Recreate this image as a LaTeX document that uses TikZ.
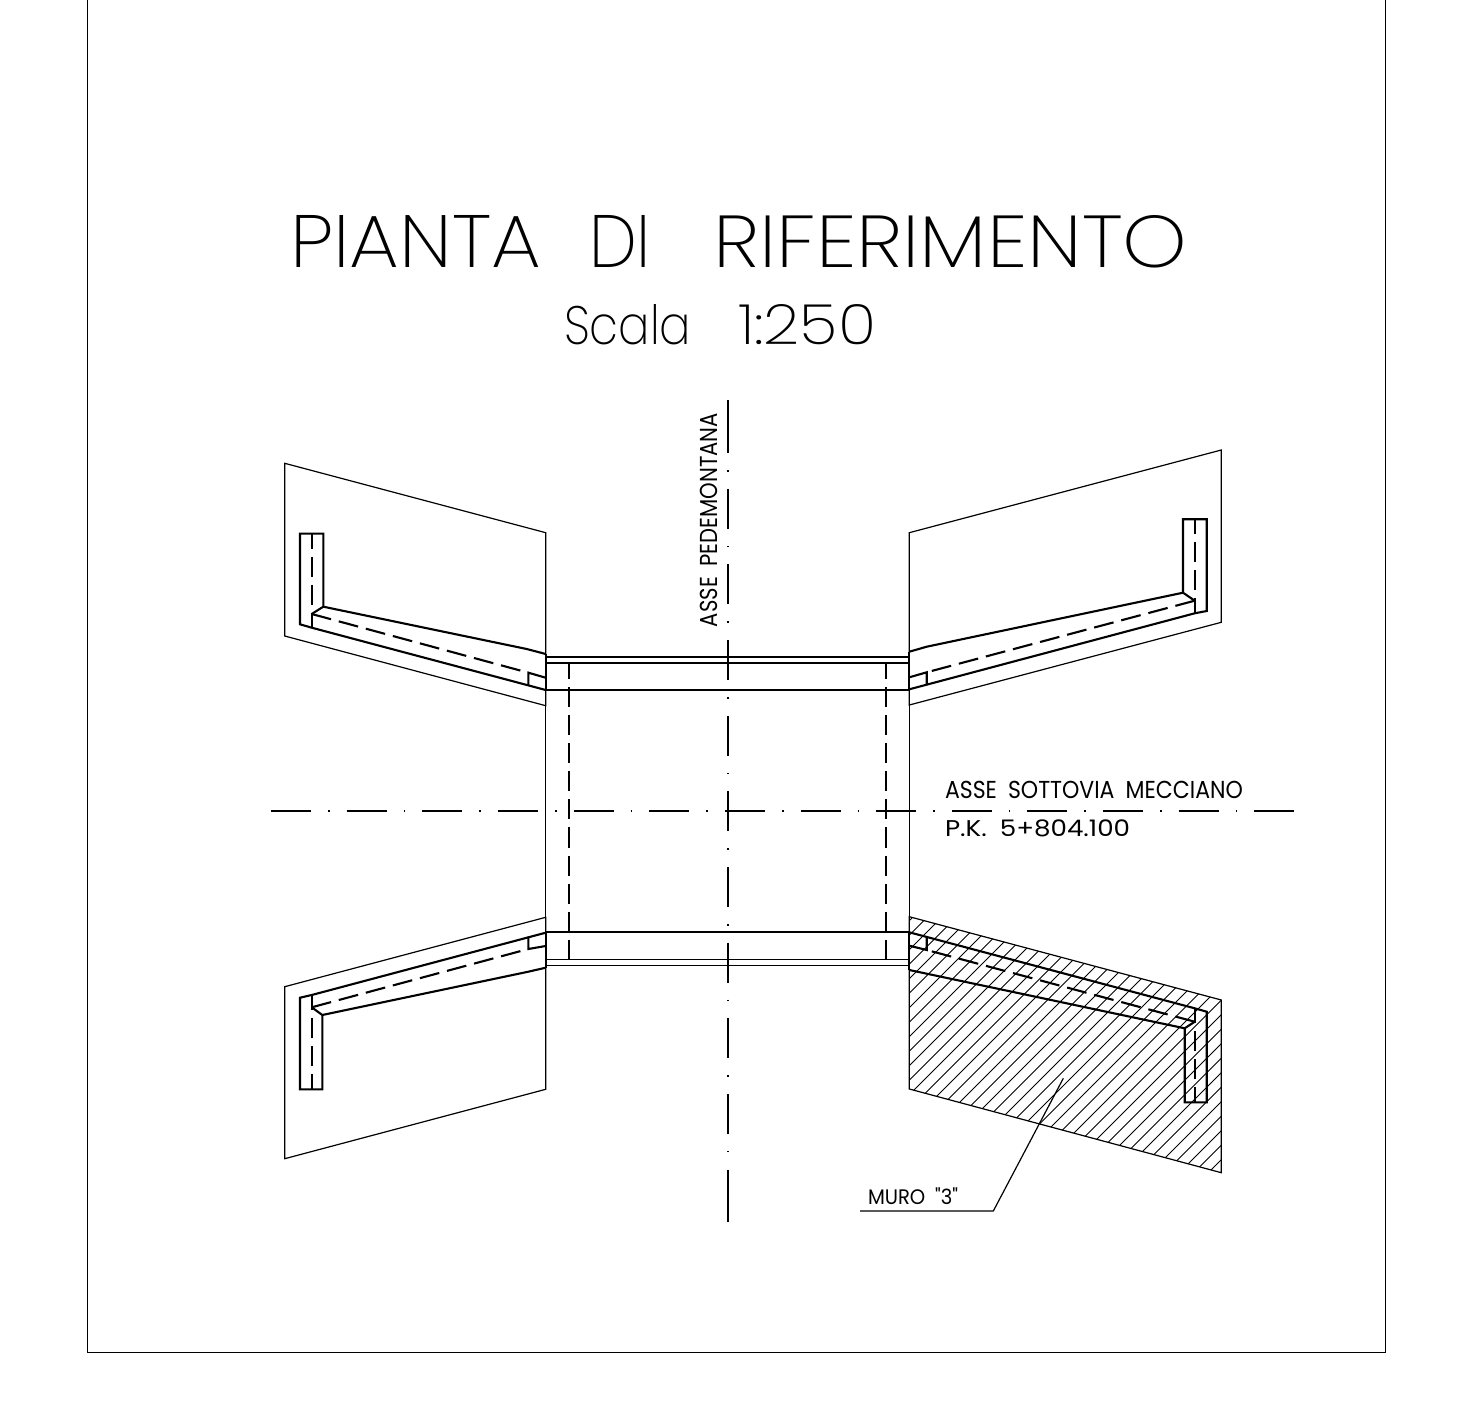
\documentclass[tikz,border=0pt]{standalone}
\usepackage{fontspec}
\usepackage{graphicx}
\newfontfamily\titlefont{Poppins ExtraLight}
\newfontfamily\labelfont{Poppins}
\tikzset{
 sheetline/.style={line width=0.009cm},
 thinline/.style={line width=0.012cm},
 wallline/.style={line width=0.021cm},
 wallhidden/.style={line width=0.021cm,dash pattern=on 0.20cm off 0.08cm},
 axisline/.style={line width=0.016cm,dash pattern=on 0.40cm off 0.17cm on 0.016cm off 0.17cm},
 axisdash/.style={line width=0.024cm,dash pattern=on 0.016cm off 0.17cm on 0.40cm off 0.17cm},
 cadtext/.style={inner sep=0pt,outer sep=0pt}
}
\begin{document}
\begin{tikzpicture}[x=0.01cm,y=-0.01cm]
 \useasboundingbox (0,0) rectangle (1483,1401);
 % sheet border
 \draw[sheetline](87,0)--(87,1352)--(1385,1352)--(1385,0);
 % titles
 \node (title) [cadtext,anchor=south west] at (290,268) {\resizebox{2.51cm}{0.52cm}{\titlefont PIANTA}\hspace{0.48cm}\resizebox{0.62cm}{0.52cm}{\titlefont DI}\hspace{0.62cm}\resizebox{4.74cm}{0.52cm}{\titlefont RIFERIMENTO}};
 \node (scale) [cadtext,anchor=south west] at (564,345) {\resizebox{1.27cm}{0.40cm}{\titlefont Scala}\hspace{0.47cm}\resizebox{1.38cm}{0.40cm}{\titlefont 1:250}};
 % hatch of the marked wall
 \begin{scope}
  \clip (909.3,916.7)--(1221.3,1000)--(1221.3,1172.7)--(909.3,1089)--cycle;
  \foreach \c in {1830,1844.5,...,2395}
   \draw[line width=0.01cm](909.3,\c-909.3)--(1221.3,\c-1221.3);
 \end{scope}
 % panels
 \draw[thinline](284.7,463.3)--(545.7,532.7)--(545.7,705.7)--(284.7,636)--cycle;
 \draw[thinline](909.3,532.7)--(1221.3,450)--(1221.3,622.3)--(909.3,705)--cycle;
 \draw[thinline](284.7,986.7)--(545.7,917.3)--(545.7,1089.3)--(284.7,1158.7)--cycle;
 \draw[thinline](909.3,916.7)--(1221.3,1000)--(1221.3,1172.7)--(909.3,1089)--cycle;
 % box
 \draw[thinline](545.7,657)--(909.3,657);
 \draw[thinline](545.7,705)--(545.7,917);
 \draw[thinline](909.3,705)--(909.3,917);
 \draw[wallline](545.7,654)--(545.7,690);
 \draw[wallline](909.3,652)--(909.3,690);
 \draw[wallline](545.7,932)--(545.7,968);
 \draw[wallline](909.3,932)--(909.3,970);
 \draw[wallline](545.7,662.7)--(909.3,662.7);
 \draw[wallline](545.7,690)--(909.3,690);
 \draw[wallline](545.7,932.3)--(909.3,932.3);
 \draw[line width=0.016cm](545.7,959.3)--(909.3,959.3);
 \draw[thinline](545.7,965.3)--(909.3,965.3);
 \draw[wallhidden,dash phase=0.033cm](568.7,662.7)--(568.7,959.3);
 \draw[wallhidden,dash phase=0.033cm](886,662.7)--(886,959.3);
 % wall top left
 \draw[wallline](311.7,614)--(323.3,606.7)--(323.3,533.7)--(300,533.7)--(300,624.3)--(311.7,627.7)--(545.7,690);
 \draw[wallline](323.3,606.7)--(526.7,649)--(545.7,654);
 \draw[wallline](311.7,614)--(311.7,627.7);
 \draw[wallhidden,dash phase=0.05cm](311.7,533.7)--(311.7,614);
 \draw[wallhidden](311.7,614)--(528.3,672.7);
 \draw[wallline](545.7,677.7)--(528.3,672.7)--(528.3,685);
 % wall top right
 \draw[wallline](1194.7,600.7)--(1183,592.7)--(1183,519.3)--(1206.7,519.3)--(1206.7,611)--(1194.7,613.3)--(909.3,689.3);
 \draw[wallline](1183,592.7)--(926.7,646.7)--(909.3,651.7);
 \draw[wallline](1194.7,600.7)--(1194.7,613.3);
 \draw[wallhidden,dash phase=0.05cm](1194.7,519.3)--(1194.7,600.7);
 \draw[wallhidden](1194.7,600.7)--(926.7,672.3);
 \draw[wallline](909.3,677.3)--(926.7,672.3)--(926.7,685);
 % wall bottom left
 \draw[wallline](311.7,1007.3)--(322.3,1015)--(322.3,1089.3)--(300,1089.3)--(300,997.7)--(311.7,995)--(545.7,932.7);
 \draw[wallline](322.3,1015)--(528.3,971.7)--(545.7,967.7);
 \draw[wallline](311.7,995)--(311.7,1007.3);
 \draw[wallhidden,dash phase=0.05cm](311.7,1089.3)--(311.7,1007.3);
 \draw[wallhidden](311.7,1007.3)--(528.3,949);
 \draw[wallline](545.7,946)--(528.3,949)--(528.3,936.7);
 % wall bottom right
 \draw[wallline](1194.7,1021.7)--(1184.7,1028.3)--(1184.7,1102.3)--(1206.7,1102.3)--(1206.7,1011.7)--(1194.7,1008.3)--(909.3,932.3);
 \draw[wallline](1184.7,1028.3)--(909.3,970);
 \draw[wallline](1194.7,1008.3)--(1194.7,1021.7);
 \draw[wallhidden,dash phase=0.05cm](1194.7,1102.3)--(1194.7,1021.7);
 \draw[wallhidden](1194.7,1021.7)--(926.7,950);
 \draw[wallline](909.3,945.7)--(926.7,950)--(926.7,937.3);
 % axes
 \draw[axisline](271,811)--(1295,811);
 \draw[line width=0.024cm](727.7,400)--(727.7,452.7);
 \draw[axisdash](727.7,470.2)--(727.7,1152);
 \draw[line width=0.024cm](727.7,1170)--(727.7,1222);
 % labels
 \node (asseped) [cadtext,anchor=south west,rotate=90] at (717.3,627) {\resizebox{2.14cm}{0.173cm}{\labelfont ASSE\enspace PEDEMONTANA}};
 \node (assesot) [cadtext,anchor=south west] at (945,798.3) {\resizebox{2.977cm}{0.173cm}{\labelfont ASSE\enspace SOTTOVIA\enspace MECCIANO}};
 \node (pk) [cadtext,anchor=south west] at (945,836.7) {\resizebox{1.85cm}{0.167cm}{\labelfont P.K.\enspace 5+804.100}};
 \node (muro) [cadtext,anchor=south west] at (868,1204.5) {\resizebox{0.90cm}{0.167cm}{\labelfont MURO\enspace "3"}};
 % leader
 \coordinate (leadstart) at (860,1211);
 \coordinate (leadknee) at (993.3,1211);
 \coordinate (leadend) at (1063.3,1078.3);
 \draw[thinline](leadstart)--(leadknee)--(leadend);
\end{tikzpicture}
\end{document}
